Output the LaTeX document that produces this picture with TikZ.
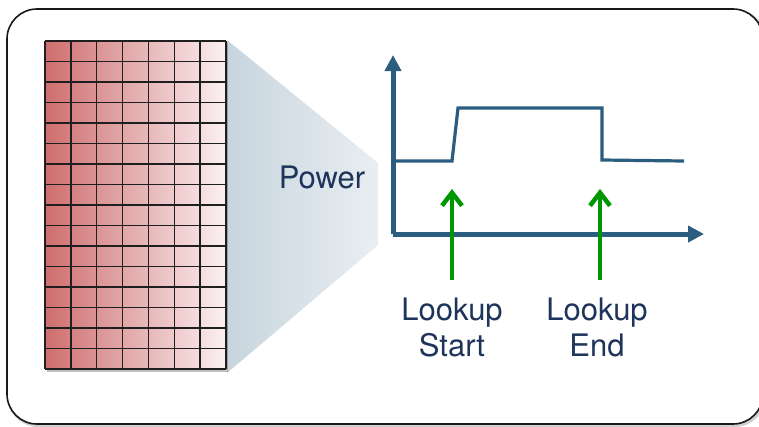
\documentclass[tikz,border=0pt]{standalone}
\usepackage{fontspec}
\setmainfont{TeX Gyre Heros}
\usetikzlibrary{arrows.meta}
\definecolor{axisblue}{RGB}{42,93,127}
\definecolor{arrgreen}{RGB}{0,150,0}
\definecolor{txtblue}{RGB}{30,52,90}
\definecolor{gridleft}{RGB}{207,110,110}
\definecolor{gridright}{RGB}{251,240,242}
\definecolor{trapleft}{RGB}{200,213,222}
\definecolor{trapright}{RGB}{233,238,242}
\tikzset{
  axisline/.style={axisblue, line width=5pt, line join=miter, -{Triangle[length=16pt,width=16pt]}},
  signal/.style={axisblue, line width=3.2pt, line join=miter},
  markarrow/.style={arrgreen, line width=4.5pt, -{Straight Barb[length=13pt,width=20pt,line width=4.5pt]}},
  label/.style={font=\fontsize{31pt}{36pt}\selectfont, text=txtblue, inner sep=0pt},
  gridline/.style={black!88, line width=1.5pt}
}
\begin{document}
\begin{tikzpicture}[x=1pt,y=-1pt]
\useasboundingbox (0,0) rectangle (759,426);
% outer rounded frame
\draw[black!75, line width=3pt, rounded corners=30pt, opacity=0.25] (8.5,10.5) rectangle (764.5,425.5);
\draw[black!90, line width=1.6pt, rounded corners=30pt, fill=white] (7,9) rectangle (763,424);
% zoom trapezoid
\shade[left color=trapleft, right color=trapright] (227,40) -- (378,163) -- (378,245) -- (227,373) -- cycle;
% memory grid
\fill[black, opacity=0.25] (47,43) rectangle (228,372);
\shade[left color=gridleft, right color=gridright] (45,41) rectangle (226,369);
\foreach \i in {0,...,7} {
  \draw[gridline] ({45+\i*181/7},41) -- ({45+\i*181/7},369);
}
\foreach \j in {0,...,16} {
  \draw[gridline] (45,{41+\j*328/16}) -- (226,{41+\j*328/16});
}
% axes
\coordinate (origin) at (393,234);
\coordinate (ytop) at (393,55);
\coordinate (xend) at (704,234);
\draw[axisline] (origin) -- (ytop);
\draw[axisline] (origin) -- (xend);
% signal
\coordinate (s0) at (393,161);
\coordinate (s1) at (452,161);
\coordinate (s2) at (458,108);
\coordinate (s3) at (602,108);
\coordinate (s4) at (602,160);
\coordinate (s5) at (684,161);
\draw[signal] (s0) -- (s1) -- (s2) -- (s3) -- (s4) -- (s5);
% marker arrows
\coordinate (a1b) at (452,280);
\coordinate (a1t) at (452,189);
\coordinate (a2b) at (600,280);
\coordinate (a2t) at (600,189);
\draw[markarrow] (a1b) -- (a1t);
\draw[markarrow] (a2b) -- (a2t);
% labels
\node[label, anchor=base] (power) at (322,188) {Power};
\node[label, anchor=north, align=center] (lstart) at (452,298) {Lookup\\Start};
\node[label, anchor=north, align=center] (lend) at (597,298) {Lookup\\End};
\end{tikzpicture}
\end{document}
